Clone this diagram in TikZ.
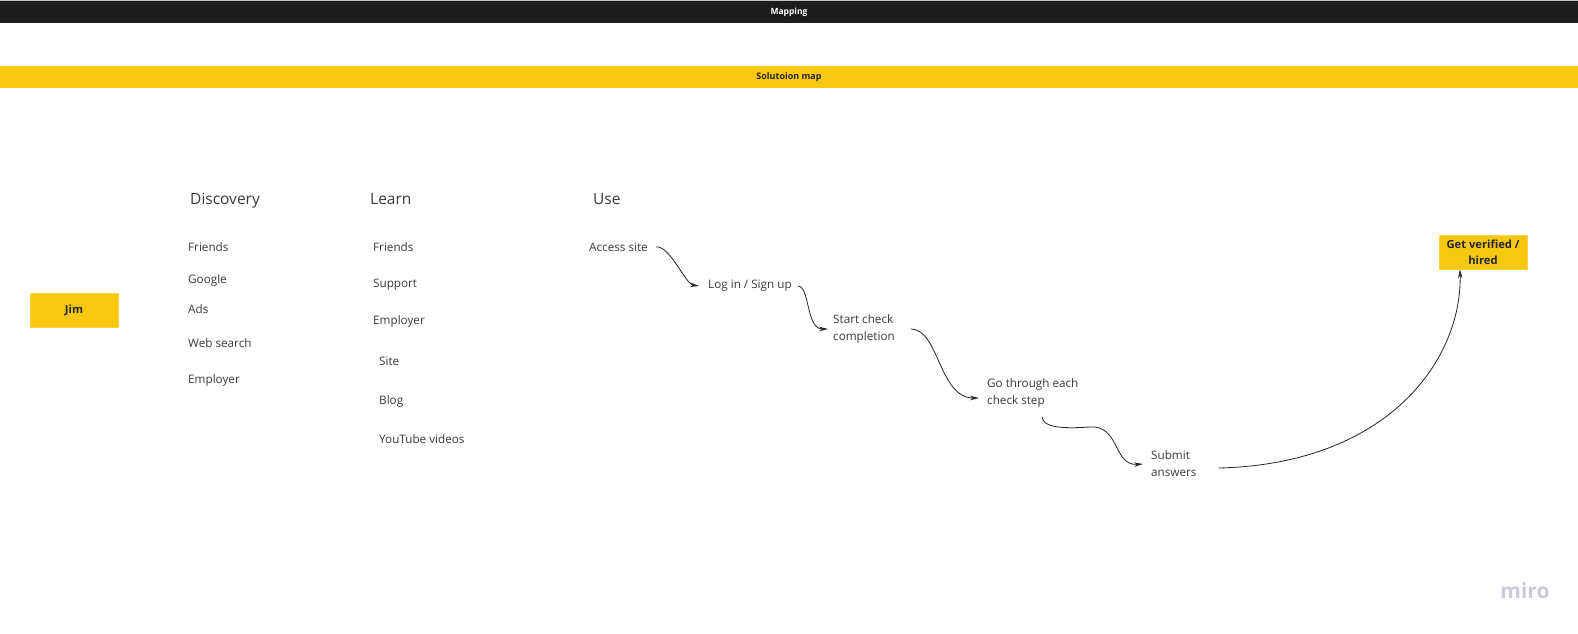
\documentclass[tikz,border=0pt]{standalone}
\usepackage{fontspec}
\setmainfont{Open Sans}
\usetikzlibrary{arrows.meta}
\definecolor{mirobar}{HTML}{1C1C1C}
\definecolor{miroyellow}{HTML}{F8C70F}
\definecolor{txt}{HTML}{3A3A3A}
\definecolor{logo}{HTML}{CACAD8}
\tikzset{
  item/.style={anchor=west, inner sep=0pt, text=txt, font={\fontsize{11.7}{17}\selectfont}, align=left},
  header/.style={anchor=west, inner sep=0pt, text=txt, font={\fontsize{15.5}{18}\selectfont}},
  ybox/.style={fill=miroyellow, draw=miroyellow!80!white, line width=0.6pt, inner sep=0pt, text=black!85, font={\fontsize{11.2}{16}\selectfont\bfseries}, align=center},
  flow/.style={draw=black!85, line width=0.8pt, -{Stealth[length=9pt,width=4.5pt]}},
}
\begin{document}
\begin{tikzpicture}[x=1pt,y=-1pt]
\useasboundingbox (0,0) rectangle (1578,633);
\fill[white] (0,0) rectangle (1578,633);
% top bars
\fill[black!25] (0,0) rectangle (1578,1);
\node[fill=mirobar, minimum width=1578pt, minimum height=22pt, inner sep=0pt, text=white, font={\fontsize{8.5}{9}\selectfont\bfseries}] (mapping) at (789,12) {Mapping};
\node[fill=miroyellow, minimum width=1578pt, minimum height=22pt, inner sep=0pt, text=black!85, font={\fontsize{9}{9}\selectfont\bfseries}] (solmap) at (789,77) {Solutoion map};
% Jim
\node[ybox, minimum width=88pt, minimum height=34pt] (jim) at (74,310) {Jim};
% headers
\node[header] (discovery) at (190,201) {Discovery};
\node[header] (learn) at (370,199) {Learn};
\node[header] (use) at (593,199) {Use};
% discovery items
\node[item] (d1) at (188,247) {Friends};
\node[item] (d2) at (188,280) {Google};
\node[item] (d3) at (188,309) {Ads};
\node[item] (d4) at (188,343) {Web search};
\node[item] (d5) at (188,380) {Employer};
% learn items
\node[item] (l1) at (373,247) {Friends};
\node[item] (l2) at (373,285) {Support};
\node[item] (l3) at (373,321) {Employer};
\node[item] (l4) at (379,361) {Site};
\node[item] (l5) at (379,401) {Blog};
\node[item] (l6) at (379,439) {YouTube videos};
% flow
\node[item] (access) at (589,247) {Access site};
\node[item] (login) at (708,286) {Log in / Sign up};
\node[item] (start) at (833,329) {Start check\\completion};
\node[item] (go) at (987,393) {Go through each\\check step};
\node[item] (submit) at (1151,464) {Submit\\answers};
\node[ybox, minimum width=88pt, minimum height=34pt] (hired) at (1483,252) {Get verified /\\hired};
% connectors
\draw[flow] ([xshift=8pt]access.east) .. controls +(14,-2) and +(-14,-2) .. ([xshift=-9pt]login.west);
\draw[flow] ([xshift=6pt]login.east) .. controls +(12,0) and +(-22,0) .. ([xshift=-5pt]start.west);
\draw[flow] ([xshift=16pt]start.east) .. controls +(28,0) and +(-40,0) .. ([xshift=-8pt,yshift=-5pt]go.west);
\draw[flow] ([xshift=55pt,yshift=-24pt]go.west) .. controls +(1,10) and +(-30,2) .. ([xshift=103pt,yshift=-34pt]go.west) .. controls +(30,-2) and +(-30,2) .. ([xshift=-8pt]submit.west);
\draw[flow] ([xshift=22pt,yshift=-4pt]submit.east) .. controls +(170,-4) and +(2,90) .. ([xshift=-23pt]hired.south);
% logo
\node[inner sep=0pt, text=logo, font={\fontsize{21}{22}\selectfont\bfseries}] (miro) at (1525,591) {miro};
\end{tikzpicture}
\end{document}
